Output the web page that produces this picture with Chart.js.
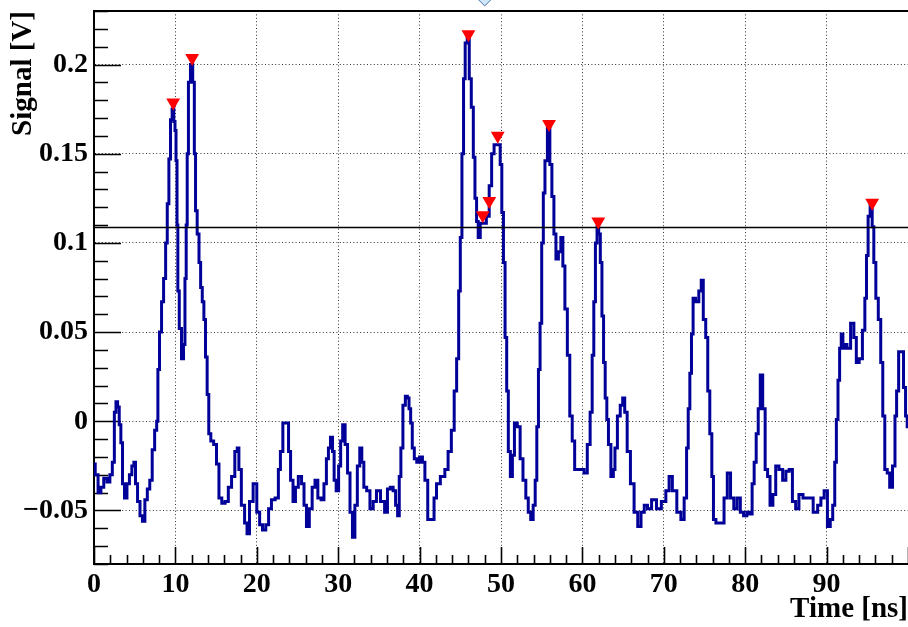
<!DOCTYPE html>
<html>
<head>
<meta charset="utf-8">
<script src="https://cdn.jsdelivr.net/npm/chart.js@4.4.1/dist/chart.umd.min.js"></script>
<style>
  html, body { margin: 0; padding: 0; background: #fff; }
  #wrap { width: 908px; height: 627px; }
</style>
</head>
<body>
<div id="wrap"><canvas id="signalChart" width="908" height="627"></canvas></div>
<script>
// waveform samples (time in ns, signal in V)
const timeNs = [
  0.0, 0.3, 0.7, 1.0, 1.4, 1.8, 2.1, 2.4, 2.6, 2.8, 3.0, 3.2, 3.4, 3.6, 3.9, 4.2, 4.5, 4.8, 5.0, 5.2,
  5.5, 5.8, 6.1, 6.4, 6.7, 7.0, 7.3, 7.6, 7.8, 7.9, 8.2, 8.4, 8.7, 8.9, 9.1, 9.3, 9.5, 9.7, 9.9, 10.0,
  10.15, 10.25, 10.35, 10.6, 10.9, 11.1, 11.25, 11.4, 11.5, 11.7, 12.0, 12.25, 12.4, 12.55, 12.8, 13.0, 13.2, 13.4, 13.6, 13.8,
  14.0, 14.2, 14.5, 14.9, 15.2, 15.5, 15.9, 16.3, 16.7, 17.1, 17.5, 17.7, 17.9, 18.3, 18.7, 18.9, 19.3, 19.8, 20.2, 20.5,
  20.9, 21.3, 21.6, 22.0, 22.5, 22.8, 23.0, 23.4, 23.8, 24.0, 24.3, 24.6, 24.9, 25.3, 25.7, 25.9, 26.3, 26.6, 27.0, 27.3,
  27.7, 28.1, 28.4, 28.7, 28.9, 29.2, 29.4, 29.6, 29.9, 30.2, 30.4, 30.7, 31.0, 31.3, 31.6, 31.9, 32.2, 32.5, 32.8, 33.0,
  33.3, 33.7, 34.1, 34.5, 34.9, 35.5, 35.9, 36.2, 36.6, 36.9, 37.2, 37.4, 37.6, 37.8, 38.1, 38.4, 38.6, 38.8, 39.0, 39.2,
  39.5, 39.8, 40.2, 40.5, 40.8, 41.2, 41.6, 41.95, 42.2, 42.9, 43.3, 43.7, 44.1, 44.4, 44.7, 44.9, 45.1, 45.3, 45.5, 45.7,
  46.0, 46.2, 46.5, 46.7, 46.9, 47.1, 47.3, 47.6, 48.0, 48.4, 48.7, 49.0, 49.3, 49.8, 50.0, 50.2, 50.4, 50.6, 50.8, 51.0,
  51.3, 51.5, 51.8, 52.2, 52.5, 52.9, 53.2, 53.5, 53.8, 54.1, 54.3, 54.5, 54.7, 54.9, 55.1, 55.3, 55.5, 55.9, 56.1, 56.4,
  56.6, 56.9, 57.2, 57.5, 57.7, 58.0, 58.3, 58.6, 58.9, 59.2, 59.6, 60.0, 60.4, 60.8, 61.1, 61.3, 61.5, 61.7, 61.9, 62.1,
  62.3, 62.5, 62.7, 62.9, 63.1, 63.3, 63.7, 63.9, 64.1, 64.5, 64.8, 65.1, 65.3, 65.7, 66.1, 66.6, 67.0, 67.4, 67.8, 68.2,
  68.8, 69.4, 70.0, 70.5, 70.8, 71.3, 71.9, 72.3, 72.7, 72.9, 73.1, 73.3, 73.5, 73.7, 74.1, 74.5, 74.7, 75.0, 75.3, 75.5,
  75.8, 76.0, 76.2, 76.6, 77.2, 77.6, 78.0, 78.4, 78.8, 79.2, 79.6, 80.0, 80.4, 80.7, 81.0, 81.2, 81.5, 81.7, 82.0, 82.3,
  82.6, 82.9, 83.2, 83.6, 83.9, 84.4, 84.8, 85.2, 85.6, 86.0, 86.4, 86.8, 87.4, 88.0, 88.7, 89.1, 89.5, 89.9, 90.3, 90.6,
  90.9, 91.1, 91.3, 91.5, 91.7, 91.9, 92.1, 92.3, 92.7, 93.2, 93.5, 93.8, 94.2, 94.6, 94.8, 95.0, 95.2, 95.5, 95.7, 95.9,
  96.2, 96.5, 96.8, 97.0, 97.3, 97.6, 97.9, 98.3, 98.5, 98.7, 99.0, 99.3, 99.6, 99.8, 100.0
];
const signalV = [
  -0.024, -0.03, -0.04, -0.037, -0.032, -0.034, -0.03, -0.023, 0.005, 0.011, 0.008, -0.002, -0.012, -0.035, -0.043, -0.035, -0.03, -0.025, -0.023, -0.035,
  -0.045, -0.053, -0.056, -0.044, -0.038, -0.033, -0.016, -0.005, 0.0, 0.029, 0.05, 0.067, 0.08, 0.1, 0.122, 0.147, 0.169, 0.175, 0.168, 0.163,
  0.146, 0.11, 0.073, 0.052, 0.035, 0.043, 0.08, 0.11, 0.15, 0.19, 0.2, 0.19, 0.15, 0.118, 0.105, 0.089, 0.075, 0.067, 0.057, 0.036,
  0.015, -0.007, -0.011, -0.013, -0.024, -0.043, -0.046, -0.045, -0.037, -0.031, -0.017, -0.015, -0.027, -0.047, -0.057, -0.063, -0.045, -0.035, -0.051, -0.058,
  -0.061, -0.058, -0.049, -0.044, -0.043, -0.027, -0.017, -0.001, -0.001, -0.017, -0.033, -0.045, -0.037, -0.031, -0.035, -0.047, -0.059, -0.049, -0.037, -0.033,
  -0.043, -0.044, -0.035, -0.021, -0.015, -0.009, -0.017, -0.033, -0.039, -0.025, -0.011, -0.002, -0.013, -0.029, -0.051, -0.065, -0.047, -0.025, -0.015, -0.023,
  -0.037, -0.039, -0.049, -0.045, -0.039, -0.045, -0.051, -0.038, -0.037, -0.039, -0.047, -0.053, -0.031, -0.015, 0.009, 0.014, 0.013, 0.007, -0.001, -0.015,
  -0.021, -0.023, -0.02, -0.023, -0.033, -0.055, -0.055, -0.043, -0.035, -0.031, -0.027, -0.017, -0.005, 0.017, 0.035, 0.073, 0.103, 0.15, 0.192, 0.212,
  0.215, 0.192, 0.176, 0.148, 0.125, 0.112, 0.103, 0.111, 0.111, 0.115, 0.132, 0.15, 0.155, 0.155, 0.144, 0.117, 0.089, 0.047, 0.017, -0.017,
  -0.031, -0.019, -0.001, -0.003, -0.021, -0.033, -0.043, -0.051, -0.055, -0.047, -0.033, -0.003, 0.029, 0.055, 0.1, 0.128, 0.146, 0.166, 0.144, 0.126,
  0.105, 0.091, 0.095, 0.103, 0.087, 0.063, 0.037, 0.003, -0.011, -0.027, -0.027, -0.027, -0.029, -0.013, 0.005, 0.037, 0.067, 0.1, 0.109, 0.105,
  0.089, 0.059, 0.033, 0.013, 0.001, -0.013, -0.031, -0.027, -0.015, 0.003, 0.009, 0.013, 0.005, -0.017, -0.035, -0.051, -0.059, -0.051, -0.047, -0.049,
  -0.044, -0.049, -0.045, -0.039, -0.031, -0.039, -0.051, -0.055, -0.043, -0.015, 0.007, 0.027, 0.049, 0.069, 0.067, 0.073, 0.079, 0.057, 0.047, 0.017,
  -0.007, -0.031, -0.055, -0.057, -0.057, -0.043, -0.029, -0.043, -0.049, -0.043, -0.051, -0.053, -0.051, -0.052, -0.035, -0.023, -0.007, 0.007, 0.026, 0.007,
  -0.027, -0.031, -0.047, -0.041, -0.025, -0.027, -0.033, -0.028, -0.027, -0.045, -0.049, -0.041, -0.043, -0.043, -0.051, -0.047, -0.043, -0.039, -0.059, -0.055,
  -0.047, -0.023, 0.001, 0.023, 0.041, 0.049, 0.041, 0.043, 0.041, 0.055, 0.047, 0.033, 0.035, 0.051, 0.069, 0.093, 0.115, 0.121, 0.109, 0.089,
  0.069, 0.057, 0.033, 0.003, -0.027, -0.029, -0.037, -0.025, 0.003, 0.017, 0.039, 0.039, 0.019, 0.003, -0.003
];

// peaks found (red markers)
const peakTime = [9.73, 12.06, 46.0, 47.76, 48.56, 49.6, 55.9, 61.95, 95.6];
const peakSignal = [0.1787, 0.2036, 0.217, 0.1155, 0.1235, 0.16, 0.1667, 0.112, 0.1225];

// threshold line
const thresholdV = 0.1086;

// stray editor marker above the frame
const markerTime = [48.0];
const markerSignal = [0.2373];

// axes
const xTickValues = [0, 10, 20, 30, 40, 50, 60, 70, 80, 90];
const xTickLabels = ['0', '10', '20', '30', '40', '50', '60', '70', '80', '90'];
const yTickValues = [-0.05, 0, 0.05, 0.1, 0.15, 0.2];
const yTickLabels = ['\u22120.05', '0', '0.05', '0.1', '0.15', '0.2'];

const serif = "'Liberation Serif', 'Times New Roman', serif";
const tickFont = { family: serif, size: 28, weight: 'bold' };
const titleFont = { family: serif, size: 29, weight: 'bold' };

// ROOT style frame: ticks pointing inside + top frame line
const rootFrame = {
  id: 'rootFrame',
  beforeDatasetsDraw(chart) {
    const { ctx, chartArea: a, scales: { x, y } } = chart;
    ctx.save();
    ctx.strokeStyle = '#000';
    ctx.lineWidth = 1.6;
    ctx.beginPath();
    for (let v = -0.08; v <= 0.2301; v += 0.01) {
      const py = Math.round(y.getPixelForValue(v)) + 0.5;
      const major = yTickValues.some(t => Math.abs(t - v) < 1e-6);
      ctx.moveTo(a.left, py);
      ctx.lineTo(a.left + (major ? 27 : 14), py);
    }
    for (let v = 0; v <= 100; v += 2) {
      const px = Math.round(x.getPixelForValue(v)) + 0.5;
      const major = v % 10 === 0;
      ctx.moveTo(px, a.bottom);
      ctx.lineTo(px, a.bottom - (major ? 17 : 9));
    }
    ctx.stroke();
    ctx.lineWidth = 2;
    ctx.beginPath();
    ctx.moveTo(a.left, a.top);
    ctx.lineTo(a.right, a.top);
    ctx.stroke();
    ctx.restore();
  },
  afterDraw(chart) {
    const { ctx, scales: { x, y } } = chart;
    ctx.save();
    ctx.fillStyle = '#cfe6fb';
    ctx.strokeStyle = '#4a6fa5';
    ctx.lineWidth = 1;
    markerTime.forEach((t, i) => {
      const cx = x.getPixelForValue(t);
      const cy = y.getPixelForValue(markerSignal[i]);
      ctx.beginPath();
      ctx.moveTo(cx - 8, cy);
      ctx.lineTo(cx, cy - 8);
      ctx.lineTo(cx + 8, cy);
      ctx.lineTo(cx, cy + 8);
      ctx.closePath();
      ctx.fill();
      ctx.stroke();
    });
    ctx.restore();
  }
};

const noPadding = s => {
  s.paddingTop = 0;
  s.paddingBottom = 0;
  s.paddingLeft = 0;
  s.paddingRight = 0;
};

new Chart(document.getElementById('signalChart').getContext('2d'), {
  type: 'line',
  data: {
    datasets: [
      {
        label: 'peaks',
        data: peakTime.map((t, i) => ({ x: t, y: peakSignal[i] })),
        showLine: false,
        pointStyle: 'triangle',
        rotation: 180,
        pointRadius: 8,
        pointBackgroundColor: '#ff0000',
        pointBorderWidth: 0
      },
      {
        label: 'threshold',
        data: [{ x: 0, y: thresholdV }, { x: 100, y: thresholdV }],
        borderColor: '#000',
        borderWidth: 1.6,
        pointRadius: 0
      },
      {
        label: 'signal',
        data: timeNs.map((t, i) => ({ x: t, y: signalV[i] })),
        borderColor: '#000099',
        borderWidth: 3,
        pointRadius: 0,
        stepped: 'middle'
      }
    ]
  },
  options: {
    responsive: false,
    animation: false,
    layout: { autoPadding: false, padding: { top: 11, right: 0, left: 0, bottom: 0 } },
    plugins: {
      legend: { display: false },
      tooltip: { enabled: false }
    },
    scales: {
      x: {
        type: 'linear',
        min: 0,
        max: 100,
        afterBuildTicks: s => { s.ticks = xTickValues.map(v => ({ value: v })); },
        afterFit: s => { s.height = 63; noPadding(s); },
        ticks: {
          autoSkip: false,
          maxRotation: 0,
          padding: 4,
          color: '#000',
          font: tickFont,
          callback: v => xTickLabels[xTickValues.indexOf(v)]
        },
        grid: { color: '#333', lineWidth: 1, drawTicks: false },
        border: { color: '#000', width: 2, dash: [1, 2.4] },
        title: { display: true, text: 'Time [ns]', align: 'end', color: '#000', font: titleFont, padding: 0 }
      },
      y: {
        min: -0.08,
        max: 0.23,
        afterBuildTicks: s => { s.ticks = yTickValues.map(v => ({ value: v })); },
        afterFit: s => { s.width = 94; noPadding(s); },
        ticks: {
          padding: 6,
          color: '#000',
          font: tickFont,
          callback: (v, i) => yTickLabels[i]
        },
        grid: { color: '#333', lineWidth: 1, drawTicks: false },
        border: { color: '#000', width: 2, dash: [1, 2.4] },
        title: { display: true, text: 'Signal [V]', align: 'end', color: '#000', font: titleFont, padding: { top: 6 } }
      }
    }
  },
  plugins: [rootFrame]
});
</script>
</body>
</html>
